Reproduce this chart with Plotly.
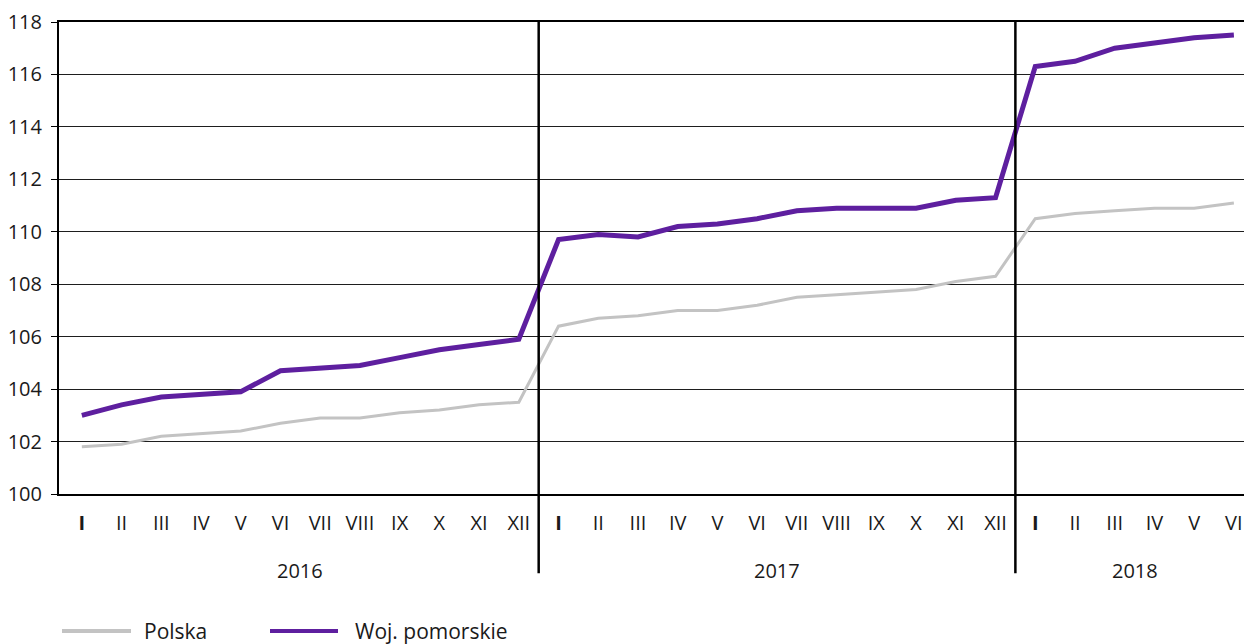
import plotly.graph_objects as go

months = ["I", "II", "III", "IV", "V", "VI", "VII", "VIII", "IX", "X", "XI", "XII"]
years = ["2016", "2017", "2018"]
months_per_year = [12, 12, 6]

polska = [101.8, 101.9, 102.2, 102.3, 102.4, 102.7, 102.9, 102.9, 103.1, 103.2, 103.4, 103.5,
          106.4, 106.7, 106.8, 107.0, 107.0, 107.2, 107.5, 107.6, 107.7, 107.8, 108.1, 108.3,
          110.5, 110.7, 110.8, 110.9, 110.9, 111.1]
pomorskie = [103.0, 103.4, 103.7, 103.8, 103.9, 104.7, 104.8, 104.9, 105.2, 105.5, 105.7, 105.9,
             109.7, 109.9, 109.8, 110.2, 110.3, 110.5, 110.8, 110.9, 110.9, 110.9, 111.2, 111.3,
             116.3, 116.5, 117.0, 117.2, 117.4, 117.5]
series_names = ["Polska", "Woj. pomorskie"]
colors = ["#c3c3c3", "#5e1f9f"]
widths = [3, 5]

tick_text = []
for n in months_per_year:
    for i in range(n):
        tick_text.append("<b>I</b>" if i == 0 else months[i])
x = list(range(len(tick_text)))

FONT = "'Open Sans', Roboto, sans-serif"
TXT = "#1a1a1a"

fig = go.Figure()
for name, vals, c, w in zip(series_names, [polska, pomorskie], colors, widths):
    fig.add_trace(go.Scatter(x=x, y=vals, mode="lines", name=name,
                             line=dict(color=c, width=w), showlegend=False))

# year separators and labels
start = 0
for yr, n in zip(years, months_per_year):
    fig.add_annotation(x=start + (n - 1) / 2, y=-0.163, xref="x", yref="paper",
                       text=yr, showarrow=False, font=dict(size=20, color=TXT, family=FONT),
                       yanchor="middle")
    if start + n < len(x):
        fig.add_shape(type="line", x0=start + n - 0.5, x1=start + n - 0.5, xref="x",
                      y0=-0.168, y1=1, yref="paper", line=dict(color="black", width=2.5))
    start += n

# manual legend
leg = [(62, 131, 144), (270, 338, 355)]
W, H = 1244, 644
L, R, T, B = 59, 0, 22, 150
pw, ph = W - L - R, H - T - B
for (x0, x1, tx), name, c in zip(leg, series_names, colors):
    yy = (494 - 631) / ph
    fig.add_shape(type="line", xref="paper", yref="paper",
                  x0=(x0 - L) / pw, x1=(x1 - L) / pw, y0=yy, y1=yy,
                  line=dict(color=c, width=4))
    fig.add_annotation(xref="paper", yref="paper", x=(tx - L) / pw, y=yy, text=name,
                       showarrow=False, xanchor="left", yanchor="middle", xshift=-2,
                       font=dict(size=21, color=TXT, family=FONT))

fig.update_layout(
    width=W, height=H,
    margin=dict(l=L, r=R, t=T, b=B),
    paper_bgcolor="white", plot_bgcolor="white",
    font=dict(family=FONT, color=TXT),
    xaxis=dict(range=[-0.575, 29.255], tickvals=x, ticktext=tick_text, showgrid=False,
               zeroline=False, showline=True, linecolor="black", linewidth=2, mirror=True,
               ticks="", tickfont=dict(size=20, family=FONT, color=TXT),
               ticklabelstandoff=10),
    yaxis=dict(range=[100, 118], dtick=2, tick0=100, showgrid=True, gridcolor="#1e1e1e",
               gridwidth=1.2, zeroline=False, showline=True, linecolor="black", linewidth=2,
               ticks="outside", ticklen=6, tickcolor="black", tickwidth=1,
               tickfont=dict(size=20, family=FONT, color=TXT), ticklabelstandoff=5),
)

fig.write_html("out.html", config={"displayModeBar": False},
               post_script="document.body.style.margin='0';document.body.style.overflow='hidden';")
